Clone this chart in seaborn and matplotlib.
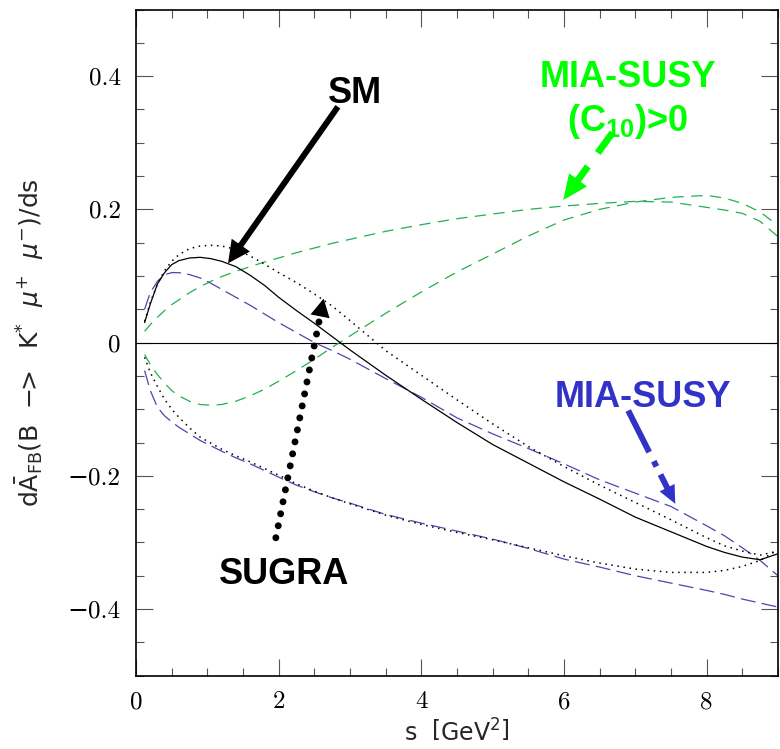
import matplotlib
matplotlib.use("Agg")
import matplotlib.pyplot as plt
import seaborn as sns
import pandas as pd
from matplotlib.ticker import MultipleLocator, FuncFormatter

# dilepton invariant mass s [GeV^2] where the curves were read
s = [0.12, 0.2, 0.3, 0.4, 0.5, 0.6, 0.75, 0.9, 1.05, 1.2, 1.4, 1.6, 1.8, 2.0, 2.25, 2.5, 2.75,
     3.0, 3.5, 4.0, 4.5, 5.0, 5.5, 6.0, 6.5, 7.0, 7.5, 8.0, 8.25, 8.5, 8.75, 9.0]

# dA_FB/ds for each model (two branches for SUGRA and the MIA-SUSY scenarios)
sm = [0.030, 0.058, 0.088, 0.105, 0.117, 0.123, 0.127, 0.128, 0.126, 0.122, 0.114, 0.101, 0.086,
      0.068, 0.048, 0.029, 0.009, -0.011, -0.049, -0.085, -0.120, -0.153, -0.181, -0.209, -0.235,
      -0.262, -0.284, -0.306, -0.315, -0.322, -0.326, -0.317]
sugra_a = [0.032, 0.060, 0.088, 0.108, 0.122, 0.132, 0.141, 0.145, 0.146, 0.145, 0.140, 0.130, 0.118,
           0.105, 0.090, 0.073, 0.055, 0.033, -0.012, -0.049, -0.086, -0.122, -0.156, -0.186, -0.214,
           -0.240, -0.266, -0.293, -0.305, -0.313, -0.319, -0.313]
sugra_b = [-0.022, -0.045, -0.066, -0.085, -0.100, -0.112, -0.128, -0.142, -0.151, -0.160, -0.170,
           -0.179, -0.189, -0.199, -0.212, -0.223, -0.233, -0.242, -0.259, -0.273, -0.285, -0.296,
           -0.308, -0.320, -0.331, -0.340, -0.345, -0.345, -0.342, -0.336, -0.327, -0.311]
mia_a = [0.050, 0.075, 0.092, 0.102, 0.105, 0.105, 0.102, 0.097, 0.089, 0.080, 0.068, 0.056, 0.043,
         0.030, 0.015, 0.000, -0.012, -0.025, -0.054, -0.082, -0.113, -0.137, -0.159, -0.182, -0.206,
         -0.226, -0.246, -0.275, -0.290, -0.308, -0.327, -0.350]
mia_b = [-0.042, -0.072, -0.097, -0.110, -0.119, -0.127, -0.137, -0.147, -0.155, -0.163, -0.173,
         -0.182, -0.192, -0.202, -0.214, -0.224, -0.233, -0.241, -0.258, -0.271, -0.283, -0.295,
         -0.309, -0.325, -0.337, -0.350, -0.361, -0.372, -0.378, -0.385, -0.391, -0.397]
c10_a = [0.017, 0.027, 0.038, 0.048, 0.057, 0.064, 0.075, 0.084, 0.092, 0.099, 0.107, 0.114, 0.121,
         0.127, 0.135, 0.142, 0.149, 0.155, 0.167, 0.177, 0.186, 0.193, 0.200, 0.205, 0.209, 0.212,
         0.211, 0.203, 0.199, 0.194, 0.182, 0.159]
c10_b = [-0.018, -0.033, -0.048, -0.061, -0.072, -0.080, -0.088, -0.093, -0.094, -0.093, -0.088,
         -0.080, -0.070, -0.058, -0.042, -0.025, -0.007, 0.010, 0.044, 0.076, 0.106, 0.133, 0.160,
         0.184, 0.200, 0.211, 0.218, 0.221, 0.217, 0.209, 0.196, 0.176]

green_line = "#22b050"
blue_line = "#5044ae"
green_txt = "#00ff00"
blue_txt = "#3232c8"

sns.set_theme(style="ticks", rc={
    "xtick.direction": "in", "ytick.direction": "in",
    "xtick.top": True, "ytick.right": True,
    "xtick.major.size": 12, "ytick.major.size": 12,
    "xtick.minor.size": 6, "ytick.minor.size": 6,
    "xtick.major.width": 0.8, "ytick.major.width": 0.8,
    "xtick.minor.width": 0.8, "ytick.minor.width": 0.8,
    "xtick.color": "#555555", "ytick.color": "#555555",
    "xtick.labelcolor": "black", "ytick.labelcolor": "black",
    "axes.linewidth": 1.2, "axes.edgecolor": "black",
})
plt.rcParams["font.family"] = ["DejaVu Sans"]
plt.rcParams["mathtext.fontset"] = "custom"
plt.rcParams["mathtext.rm"] = "DejaVu Sans"
plt.rcParams["mathtext.it"] = "DejaVu Sans:italic"
plt.rcParams["mathtext.bf"] = "Liberation Sans:bold"
plt.rcParams["mathtext.sf"] = "DejaVu Sans"

fig = plt.figure(figsize=(7.8, 7.49), dpi=100)
ax = fig.add_axes([0.1744, 0.0979, 0.8230, 0.8894])

df = pd.DataFrame({"s": s, "sm": sm, "sugra_a": sugra_a, "sugra_b": sugra_b,
                   "mia_a": mia_a, "mia_b": mia_b, "c10_a": c10_a, "c10_b": c10_b})

ax.axhline(0, color="black", lw=0.8, zorder=1)
for col in ["c10_a", "c10_b"]:
    sns.lineplot(data=df, x="s", y=col, ax=ax, color=green_line, lw=0.9, linestyle=(0, (9, 6)))
for col in ["mia_a", "mia_b"]:
    sns.lineplot(data=df, x="s", y=col, ax=ax, color=blue_line, lw=0.9, linestyle=(0, (12, 5)))
for col in ["sugra_a", "sugra_b"]:
    sns.lineplot(data=df, x="s", y=col, ax=ax, color="black", lw=1.1, linestyle=(0, (1, 3)))
sns.lineplot(data=df, x="s", y="sm", ax=ax, color="black", lw=0.9)

ax.set_xlim(0, 9)
ax.set_ylim(-0.5, 0.5)
ax.xaxis.set_major_locator(MultipleLocator(2))
ax.xaxis.set_minor_locator(MultipleLocator(0.5))
ax.yaxis.set_major_locator(MultipleLocator(0.2))
ax.yaxis.set_minor_locator(MultipleLocator(0.05))


def fmt(v, pos):
    if abs(v) < 1e-9:
        return "0"
    return f"{v:g}".replace("-", "\u2212")


ax.xaxis.set_major_formatter(FuncFormatter(fmt))
ax.yaxis.set_major_formatter(FuncFormatter(fmt))
ax.tick_params(which="both", top=True, right=True)
ax.tick_params(labelsize=18, pad=11, labelfontfamily=["cmr10", "DejaVu Serif"])

ax.set_xlabel(r"s  $\left[\mathrm{GeV}^2\right]$", fontsize=17)
ax.set_ylabel(r"d$\bar{\mathrm{A}}_{\mathrm{FB}}$(B  $-\!\!>$  K$^{*}$  $\mu^{+}$  $\mu^{-}$)/ds", fontsize=18)
ax.xaxis.set_label_coords(0.5, -0.066)
ax.yaxis.set_label_coords(-0.140, 0.5)


def arrow(tail, tip, color, lw, dash, head_len, head_w, cap="butt"):
    ax.annotate("", xy=tip, xytext=tail,
                arrowprops=dict(arrowstyle="-", lw=lw, color=color, linestyle=dash,
                                shrinkA=0, shrinkB=head_len * 0.7, capstyle=cap))
    ax.annotate("", xy=tip, xytext=tail,
                arrowprops=dict(arrowstyle=f"-|>,head_length={head_len},head_width={head_w}",
                                mutation_scale=1, lw=0, color=color, shrinkA=0, shrinkB=0))


bold = dict(fontsize=26, fontweight="bold", family="Liberation Sans", ha="center", va="baseline")
ax.text(3.07, 0.360, "SM", color="black", **bold)
arrow((2.83, 0.354), (1.29, 0.119), "black", 4.3, "-", 16, 8)

ax.text(6.89, 0.384, "MIA-SUSY", color=green_txt, **bold)
ax.text(6.89, 0.317, r"(C$_{\mathbf{10}}$)>0", color=green_txt, **bold)
arrow((6.68, 0.315), (5.99, 0.214), green_txt, 5, (0, (3.6, 2.4)), 18, 8)

ax.text(2.08, -0.362, "SUGRA", color="black", **bold)
arrow((1.96, -0.293), (2.63, 0.066), "black", 5, (0, (0.01, 1.75)), 13, 7, cap="round")

ax.text(7.11, -0.097, "MIA-SUSY", color=blue_txt, **bold)
arrow((6.90, -0.102), (7.56, -0.242), blue_txt, 4.3, (0, (7.8, 1.7, 1, 1.5)), 13, 6)

fig.savefig("out.png", dpi=100)
